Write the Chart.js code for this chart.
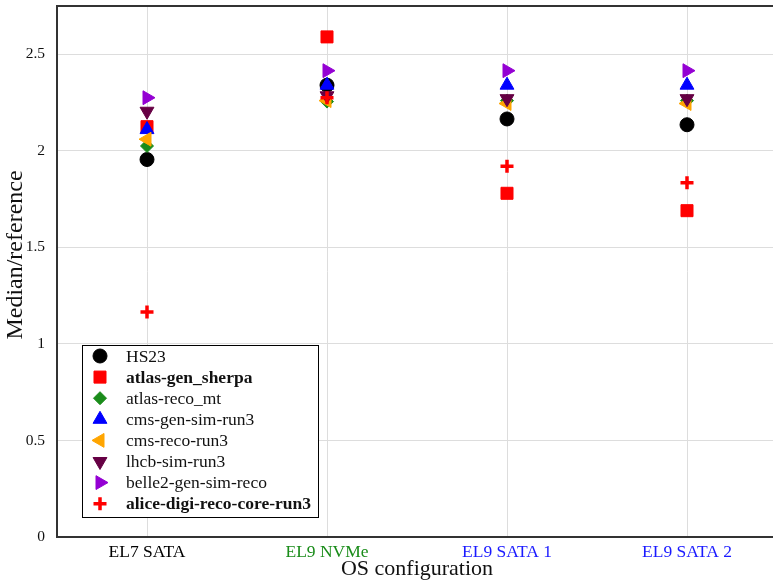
<!DOCTYPE html>
<html lang="en">
<head>
  <meta charset="UTF-8">
  <title>Median/reference per OS configuration</title>
  <script src="https://cdn.jsdelivr.net/npm/chart.js@4/dist/chart.umd.min.js"></script>
  <style>
    html, body { margin: 0; padding: 0; overflow: hidden; background: #fff; }
    canvas { display: block; }
  </style>
</head>
<body>
<canvas id="myChart" width="778" height="582"></canvas>

<script>
// categories and their label colours
const configs = ['EL7 SATA', 'EL9 NVMe', 'EL9 SATA 1', 'EL9 SATA 2'];
const configColors = ['#000000', '#1a8c1a', '#1a1aff', '#1a1aff'];

// values, one per configuration
const hs23        = [1.955, 2.34, 2.165, 2.135];
const atlasGen    = [2.125, 2.59, 1.78, 1.69];
const atlasReco   = [2.025, 2.255, 2.26, 2.26];
const cmsGenSim   = [2.11, 2.34, 2.34, 2.34];
const cmsReco     = [2.06, 2.26, 2.245, 2.245];
const lhcbSim     = [2.205, 2.285, 2.27, 2.27];
const belle2      = [2.275, 2.415, 2.415, 2.415];
const aliceDigi   = [1.165, 2.275, 1.92, 1.835];

const yTicks = [0, 0.5, 1, 1.5, 2, 2.5];

const FONT = '"Liberation Serif", "DejaVu Serif", serif';

function ds(label, data, color, style, radius, rotation, bold, bw) {
  return {
    label: label,
    data: data,
    showLine: false,
    backgroundColor: color,
    borderColor: color,
    pointStyle: style,
    pointRadius: radius,
    pointHoverRadius: radius,
    pointRotation: rotation,
    pointBorderWidth: bw || 1,
    boldLabel: bold
  };
}

const datasets = [
  ds('HS23', hs23, '#000000', 'circle', 7, 0, false),
  ds('atlas-gen_sherpa', atlasGen, '#ff0000', 'rect', 8.5, 0, true),
  ds('atlas-reco_mt', atlasReco, '#1a8c1a', 'rectRot', 6.5, 0, false),
  ds('cms-gen-sim-run3', cmsGenSim, '#0000ff', 'triangle', 8, 0, false),
  ds('cms-reco-run3', cmsReco, '#ffa500', 'triangle', 8, -90, false),
  ds('lhcb-sim-run3', lhcbSim, '#660044', 'triangle', 8, 180, false),
  ds('belle2-gen-sim-reco', belle2, '#9400d3', 'triangle', 8, 90, false),
  ds('alice-digi-reco-core-run3', aliceDigi, '#ff0000', 'cross', 6.5, 0, true, 3.5)
];
// later series are painted on top
datasets.forEach((d, i) => { d.order = datasets.length - i; });

// box round the plot area, the y title and the legend drawn inside the plot
const framePlugin = {
  id: 'frame',
  afterDatasetsDraw(chart) {
    const ctx = chart.ctx;
    const a = chart.chartArea;
    ctx.save();
    ctx.strokeStyle = '#333';
    ctx.lineWidth = 2;
    ctx.strokeRect(a.left, a.top, a.right - a.left, a.bottom - a.top);

    // y axis title
    ctx.save();
    ctx.translate(16, 255);
    ctx.rotate(-Math.PI / 2);
    ctx.fillStyle = '#111';
    ctx.font = '24px ' + FONT;
    ctx.textAlign = 'center';
    ctx.textBaseline = 'middle';
    ctx.fillText('Median/reference', 0, 0);
    ctx.restore();

    // legend
    const lx = 82, ly = 345, lw = 236, lh = 172;
    ctx.fillStyle = '#fff';
    ctx.fillRect(lx, ly, lw, lh);
    ctx.strokeStyle = '#000';
    ctx.lineWidth = 1;
    ctx.strokeRect(lx + 0.5, ly + 0.5, lw, lh);
    chart.data.datasets.forEach((d, i) => {
      const y = ly + 11 + i * 21.1;
      ctx.fillStyle = d.backgroundColor;
      ctx.strokeStyle = d.borderColor;
      ctx.lineWidth = d.pointBorderWidth;
      Chart.helpers.drawPoint(ctx, {
        pointStyle: d.pointStyle,
        radius: d.pointRadius,
        rotation: d.pointRotation,
        borderWidth: d.pointBorderWidth
      }, lx + 18, y);
      ctx.fillStyle = '#111';
      ctx.font = (d.boldLabel ? 'bold ' : '') + '17.5px ' + FONT;
      ctx.textBaseline = 'middle';
      ctx.textAlign = 'left';
      ctx.fillText(d.label, lx + 44, y + 1);
    });
    ctx.restore();
  }
};

const ctx = document.getElementById('myChart').getContext('2d');
const chart = new Chart(ctx, {
  type: 'line',
  data: { labels: configs, datasets: datasets },
  options: {
    responsive: false,
    animation: false,
    layout: { autoPadding: false, padding: { top: 6, right: 1, left: 0, bottom: 0 } },
    plugins: {
      legend: { display: false },
      tooltip: { enabled: false }
    },
    scales: {
      x: {
        type: 'category',
        offset: true,
        grid: { color: '#dddddd', drawTicks: false, offset: false },
        border: { display: false },
        ticks: {
          padding: 5,
          font: { family: FONT, size: 17.5 },
          color: (c) => configColors[c.index]
        },
        title: {
          display: true,
          text: 'OS configuration',
          font: { family: FONT, size: 22 },
          color: '#111',
          padding: { top: 0, bottom: 0 }
        },
        afterFit(scale) { scale.height = 45; scale.paddingLeft = 0; scale.paddingRight = 0; }
      },
      y: {
        min: 0,
        max: 2.75,
        afterBuildTicks(scale) { scale.ticks = yTicks.map(v => ({ value: v })); },
        grid: { color: '#dddddd', drawTicks: false },
        border: { display: false },
        ticks: {
          padding: 12,
          font: { family: FONT, size: 15.5 },
          color: '#111',
          callback: (v) => String(v)
        },
        title: { display: false },
        afterFit(scale) { scale.width = 57; scale.paddingTop = 0; scale.paddingBottom = 0; }
      }
    }
  },
  plugins: [framePlugin]
});
</script>
</body>
</html>
